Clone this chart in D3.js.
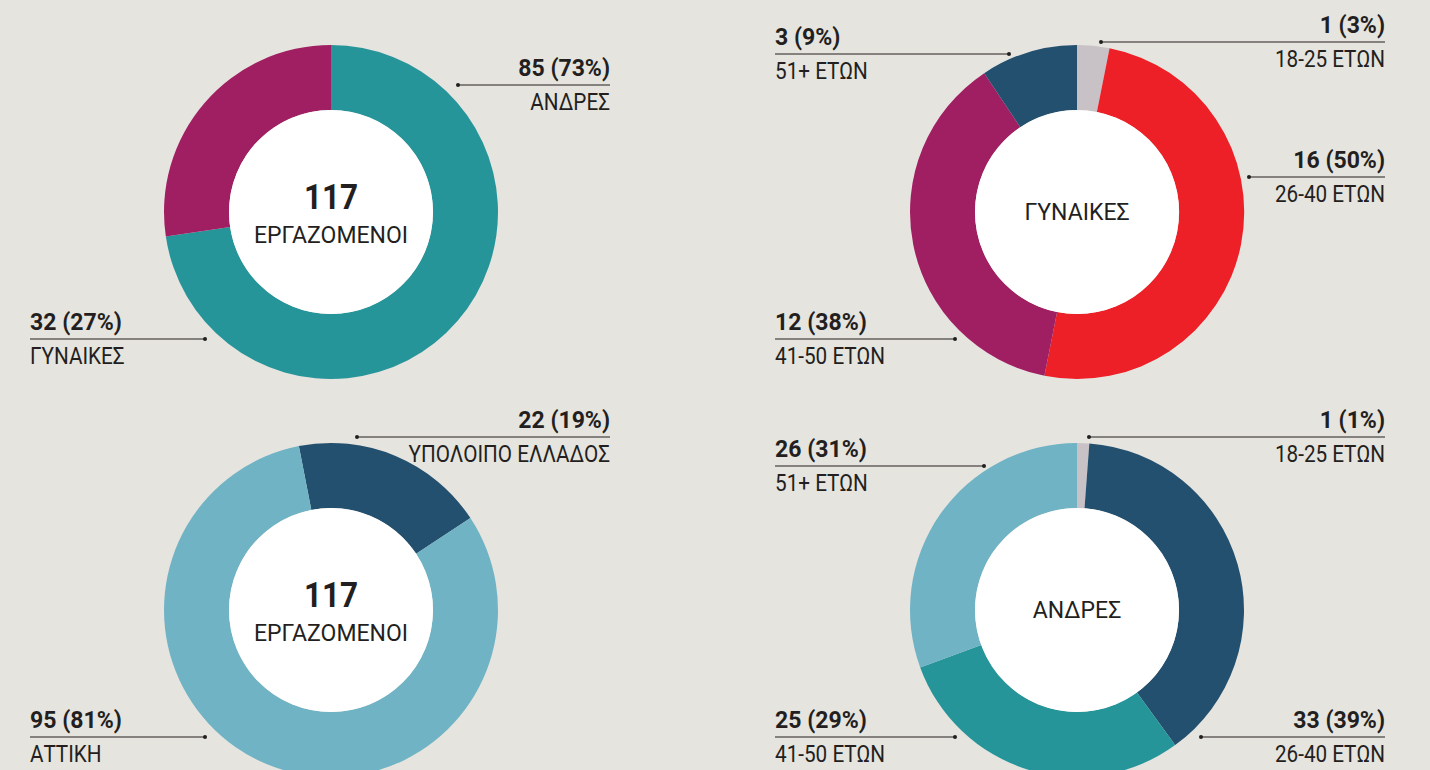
<!DOCTYPE html>
<html>
<head>
<meta charset="utf-8">
<script src="https://cdn.jsdelivr.net/npm/d3@7"></script>
<style>
  html, body { margin: 0; padding: 0; background: #e6e4df; }
  svg { display: block; }
  text { font-family: Roboto, "Liberation Sans", sans-serif; fill: #231f20; }
</style>
</head>
<body>
<svg id="chart" width="1430" height="770"></svg>
<script>
// ---------- DATA ----------
// Chart 1: employees by gender
const genderCategories = ["ΑΝΔΡΕΣ", "ΓΥΝΑΙΚΕΣ"];
const genderValues = [85, 32];
const genderPercents = ["73%", "27%"];

// Chart 2: women by age
const womenCategories = ["18-25 ΕΤΩΝ", "26-40 ΕΤΩΝ", "41-50 ΕΤΩΝ", "51+ ΕΤΩΝ"];
const womenValues = [1, 16, 12, 3];
const womenPercents = ["3%", "50%", "38%", "9%"];

// Chart 3: employees by region
const regionCategories = ["ΥΠΟΛΟΙΠΟ ΕΛΛΑΔΟΣ", "ΑΤΤΙΚΗ"];
const regionValues = [22, 95];
const regionPercents = ["19%", "81%"];

// Chart 4: men by age
const menCategories = ["18-25 ΕΤΩΝ", "26-40 ΕΤΩΝ", "41-50 ΕΤΩΝ", "51+ ΕΤΩΝ"];
const menValues = [1, 33, 25, 26];
const menPercents = ["1%", "39%", "29%", "31%"];

const totalLabel = "ΕΡΓΑΖΟΜΕΝΟΙ";

// ---------- STYLE / LAYOUT ----------
const C = {
  teal: "#26959a", magenta: "#a01f62", red: "#ed1f27",
  navy: "#23506f", lightblue: "#70b3c5", grey: "#c8c1c6"
};
const R_OUT = 167, R_IN = 102;
const SX_BOLD = 0.96, SX_REG = 0.9, SX_CENTER = 1.0;

const charts = [
  {
    cx: 331, cy: 212, start: 0,
    cats: genderCategories, vals: genderValues, pcts: genderPercents,
    colors: [C.teal, C.magenta],
    center: "total",
    labels: [
      { side: "right", x: 610, y: 85, end: 458 },
      { side: "left", x: 30, y: 339, end: 205 }
    ]
  },
  {
    cx: 1077, cy: 212, start: 0,
    cats: womenCategories, vals: womenValues, pcts: womenPercents,
    colors: [C.grey, C.red, C.magenta, C.navy],
    center: "ΓΥΝΑΙΚΕΣ",
    labels: [
      { side: "right", x: 1385, y: 42, end: 1101 },
      { side: "right", x: 1385, y: 177, end: 1249 },
      { side: "left", x: 775, y: 339, end: 955 },
      { side: "left", x: 775, y: 54, end: 1009 }
    ]
  },
  {
    cx: 331, cy: 610, start: -11.1 * Math.PI / 180,
    cats: regionCategories, vals: regionValues, pcts: regionPercents,
    colors: [C.navy, C.lightblue],
    center: "total",
    labels: [
      { side: "right", x: 610, y: 437, end: 357 },
      { side: "left", x: 30, y: 737, end: 205 }
    ]
  },
  {
    cx: 1077, cy: 610, start: 0,
    cats: menCategories, vals: menValues, pcts: menPercents,
    colors: [C.grey, C.navy, C.teal, C.lightblue],
    center: "ΑΝΔΡΕΣ",
    labels: [
      { side: "right", x: 1385, y: 437, end: 1089 },
      { side: "right", x: 1385, y: 737, end: 1201 },
      { side: "left", x: 775, y: 737, end: 955 },
      { side: "left", x: 775, y: 466, end: 984 }
    ]
  }
];

const svg = d3.select("#chart");
const arc = d3.arc().innerRadius(R_IN).outerRadius(R_OUT);

// condensed text helper: horizontal squeeze around anchor x
function condText(sel, x, y, anchor, size, weight, sx, str) {
  return sel.append("text")
    .attr("transform", `translate(${x},${y}) scale(${sx},1)`)
    .attr("text-anchor", anchor)
    .attr("font-size", size)
    .attr("font-weight", weight)
    .text(str);
}

charts.forEach(ch => {
  const pie = d3.pie().sort(null).value(d => d)
    .startAngle(ch.start).endAngle(ch.start + 2 * Math.PI);
  const arcs = pie(ch.vals);
  const g = svg.append("g").attr("transform", `translate(${ch.cx},${ch.cy})`);

  g.selectAll("path.slice").data(arcs).join("path")
    .attr("class", "slice")
    .attr("d", arc)
    .attr("fill", (d, i) => ch.colors[i]);

  g.append("circle").attr("r", R_IN).attr("fill", "#ffffff");

  if (ch.center === "total") {
    const total = d3.sum(ch.vals);
    condText(g, 0, -3, "middle", 35, "bold", 0.9, total);
    condText(g, 0, 31, "middle", 23, "normal", SX_CENTER, totalLabel);
  } else {
    condText(g, 0, 8, "middle", 23, "normal", SX_CENTER, ch.center);
  }

  ch.labels.forEach((L, i) => {
    const lg = svg.append("g");
    const x1 = L.side === "right" ? L.end : L.x;
    const x2 = L.side === "right" ? L.x : L.end;
    lg.append("line").attr("x1", x1).attr("x2", x2)
      .attr("y1", L.y).attr("y2", L.y)
      .attr("stroke", "#231f20").attr("stroke-width", 1.2);
    lg.append("circle").attr("cx", L.end).attr("cy", L.y).attr("r", 2)
      .attr("fill", "#231f20");
    const anchor = L.side === "right" ? "end" : "start";
    condText(lg, L.x, L.y - 9, anchor, 24, "bold", SX_BOLD, `${ch.vals[i]} (${ch.pcts[i]})`);
    condText(lg, L.x, L.y + 25, anchor, 23, "normal", SX_REG, ch.cats[i]);
  });
});
</script>
</body>
</html>
